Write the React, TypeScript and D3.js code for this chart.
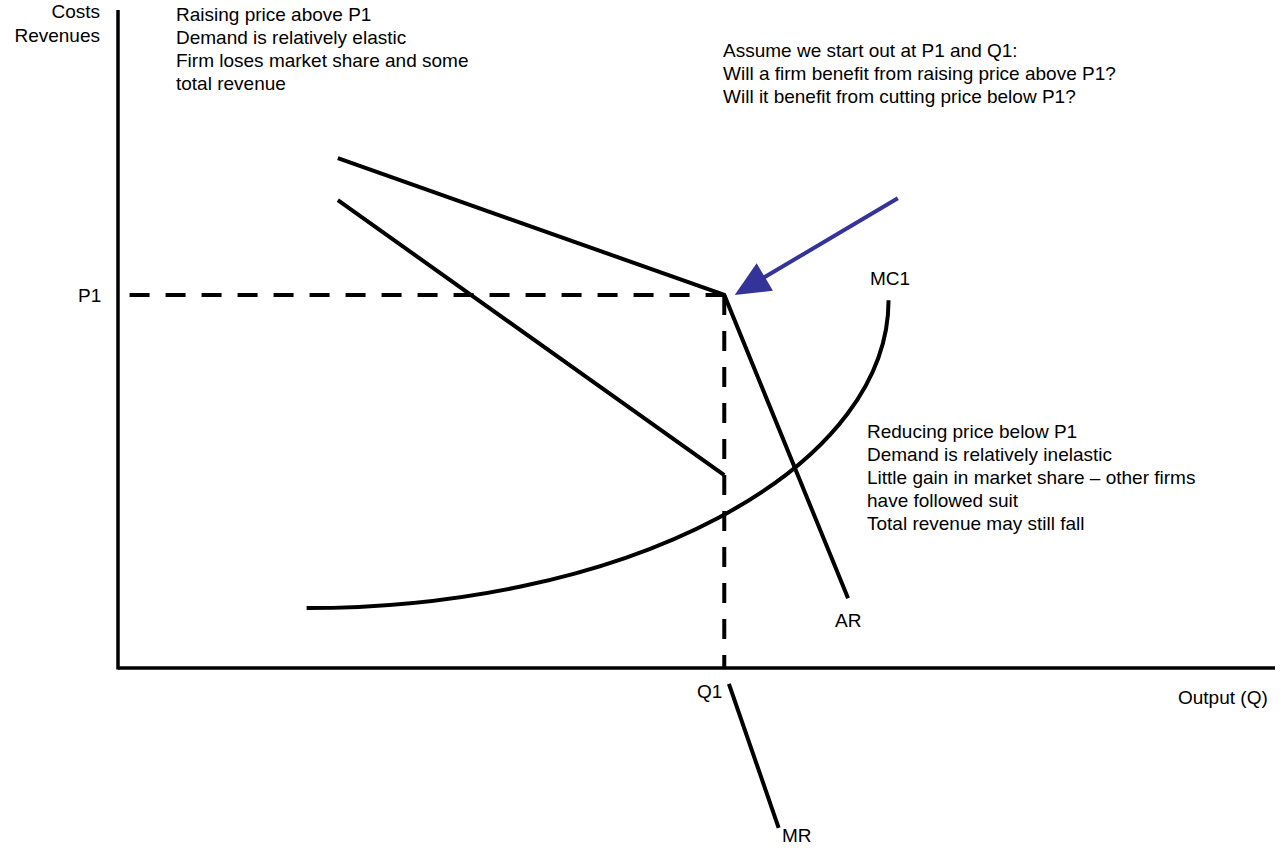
import React from "react";
import * as d3 from "d3";

// Data in model units (quantity 0..100, price 0..100)
const P1 = 56.7;
const Q1 = 52.4;
const arPoints: [number, number][] = [[19.0, 77.5], [Q1, P1], [63.1, 10.6]];
const mrUpper: [number, number][] = [[19.0, 71.1], [Q1, 29.3]];
const mrLower: [number, number][] = [[52.8, -2.4], [57.1, -24.3]];
// MC1 drawn as a quarter-ellipse between its start and end points
const mcStart: [number, number] = [16.3, 9.1];
const mcEnd: [number, number] = [66.6, 55.9];
const arrowFrom: [number, number] = [67.4, 71.4];
const arrowTo: [number, number] = [53.3, 56.7];

const block1 = [
  "Raising price above P1",
  "Demand is relatively elastic",
  "Firm loses market share and some",
  "total revenue",
];
const block2 = [
  "Assume we start out at P1 and Q1:",
  "Will a firm benefit from raising price above P1?",
  "Will it benefit from cutting price below P1?",
];
const block3 = [
  "Reducing price below P1",
  "Demand is relatively inelastic",
  "Little gain in market share – other firms",
  "have followed suit",
  "Total revenue may still fall",
];

const W = 1281;
const H = 848;
const FONT = "'Liberation Sans', Arial, sans-serif";
const FS = 19;

export default function App() {
  const x = d3.scaleLinear().domain([0, 100]).range([118, 1275]);
  const y = d3.scaleLinear().domain([0, 100]).range([668, 10]);
  const line = d3.line<[number, number]>().x((d) => x(d[0])).y((d) => y(d[1]));

  // MC arc
  const sx = x(mcStart[0]), sy = y(mcStart[1]);
  const ex = x(mcEnd[0]), ey = y(mcEnd[1]);
  const mcPath = `M${sx},${sy}A${ex - sx},${sy - ey} 0 0 0 ${ex},${ey}`;

  // arrow geometry
  const ax0 = x(arrowFrom[0]), ay0 = y(arrowFrom[1]);
  const ax1 = x(arrowTo[0]), ay1 = y(arrowTo[1]);
  const dx = ax1 - ax0, dy = ay1 - ay0;
  const len = Math.hypot(dx, dy);
  const ux = dx / len, uy = dy / len;
  const headL = 35, headW = 16;
  const bx = ax1 - ux * headL, by = ay1 - uy * headL;
  const px = -uy, py = ux;
  const head = `M${ax1},${ay1}L${bx + px * headW},${by + py * headW}L${bx - px * headW},${by - py * headW}Z`;

  const textBlock = (lines: string[], tx: number, ty: number, step: number) =>
    lines.map((t, i) => (
      <text key={i} x={tx} y={ty + i * step}>
        {t}
      </text>
    ));

  return (
    <svg
      width={W}
      height={H}
      style={{ position: "absolute", left: 0, top: 0, background: "#fff" }}
      fontFamily={FONT}
      fontSize={FS}
    >
      <rect width={W} height={H} fill="#fff" />
      {/* axes */}
      <line x1={x(0)} y1={y(100)} x2={x(0)} y2={y(0) + 1.5} stroke="#000" strokeWidth={3.5} />
      <line x1={x(0)} y1={y(0)} x2={x(100)} y2={y(0)} stroke="#000" strokeWidth={3.5} />
      {/* dashed guides */}
      <line x1={x(1)} y1={y(P1)} x2={x(Q1)} y2={y(P1)} stroke="#000" strokeWidth={4} strokeDasharray="20 16" />
      <line x1={x(Q1)} y1={y(P1)} x2={x(Q1)} y2={y(0)} stroke="#000" strokeWidth={4} strokeDasharray="20 16" />
      {/* AR */}
      <path d={line(arPoints)!} fill="none" stroke="#000" strokeWidth={4} />
      {/* MR */}
      <path d={line(mrUpper)!} fill="none" stroke="#000" strokeWidth={4} />
      <path d={line(mrLower)!} fill="none" stroke="#000" strokeWidth={4} />
      {/* MC */}
      <path d={mcPath} fill="none" stroke="#000" strokeWidth={4} />
      {/* arrow */}
      <line x1={ax0} y1={ay0} x2={bx + ux * 2} y2={by + uy * 2} stroke="#333399" strokeWidth={4} />
      <path d={head} fill="#333399" />
      {/* labels */}
      <g fill="#000">
        <text x={100} y={18} textAnchor="end">Costs</text>
        <text x={100} y={42} textAnchor="end">Revenues</text>
        {textBlock(block1, 176, 21, 23)}
        {textBlock(block2, 723, 57, 23)}
        {textBlock(block3, 867, 438, 23)}
        <text x={78} y={302}>P1</text>
        <text x={697} y={698}>Q1</text>
        <text x={1178} y={704}>Output (Q)</text>
        <text x={870} y={285}>MC1</text>
        <text x={835} y={627}>AR</text>
        <text x={782} y={842}>MR</text>
      </g>
    </svg>
  );
}
